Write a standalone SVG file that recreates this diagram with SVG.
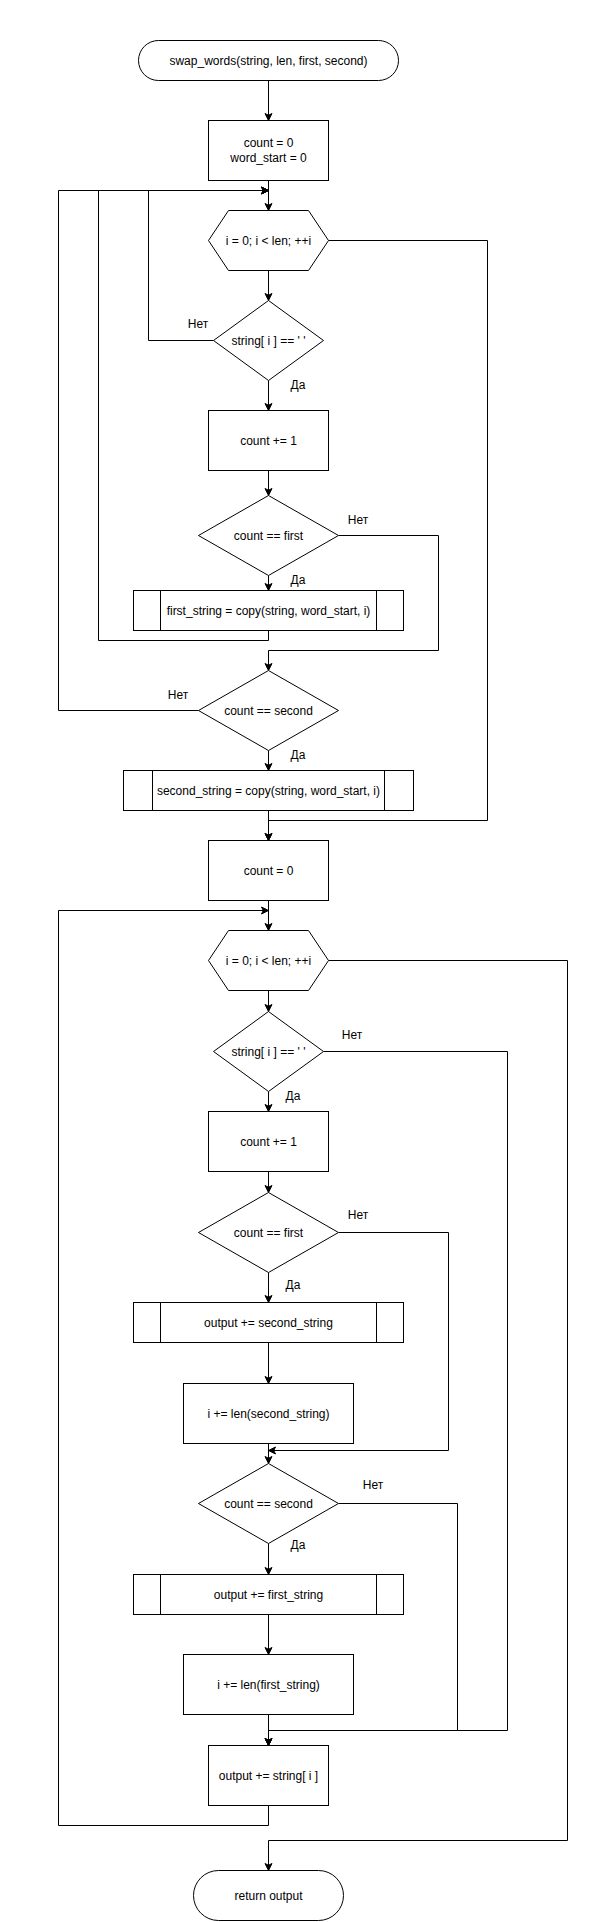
<svg xmlns="http://www.w3.org/2000/svg" width="612" height="1922" viewBox="0 0 612 1922">
<defs>
<marker id="arr" viewBox="0 0 8 8" refX="7" refY="4" markerWidth="8" markerHeight="8" markerUnits="userSpaceOnUse" orient="auto" overflow="visible">
<path d="M 7 4 L 0 0.5 L 1.75 4 L 0 7.5 Z" fill="#000" stroke="#000" stroke-width="1"/>
</marker>
</defs>
<style>
.s{fill:#fff;stroke:#000;stroke-width:1}
.l{fill:none;stroke:#000;stroke-width:1}
.c{fill:none;stroke:#000;stroke-width:1;marker-end:url(#arr)}
text{font-family:"Liberation Sans",Arial,Helvetica,sans-serif;font-size:12px;fill:#000;text-anchor:middle}
</style>
<rect width="612" height="1922" fill="#fff"/>
<g id="connectors">
<path class="c" d="M 268.5 80.5 L 268.5 120.5"/>
<path class="c" d="M 268.5 180.5 L 268.5 210.5"/>
<path class="c" d="M 328.5 240.5 L 487.5 240.5 L 487.5 820.5 L 268.5 820.5 L 268.5 840.5"/>
<path class="c" d="M 268.5 270.5 L 268.5 300.5"/>
<path class="c" d="M 213.5 340.5 L 148.5 340.5 L 148.5 190.5 L 268.5 190.5"/>
<path class="c" d="M 268.5 380.5 L 268.5 410.5"/>
<path class="c" d="M 268.5 470.5 L 268.5 495.5"/>
<path class="c" d="M 338.5 535.5 L 438.5 535.5 L 438.5 650.5 L 268.5 650.5 L 268.5 670.5"/>
<path class="c" d="M 268.5 575.5 L 268.5 590.5"/>
<path class="c" d="M 268.5 630.5 L 268.5 640.5 L 98.5 640.5 L 98.5 190.5 L 268.5 190.5"/>
<path class="c" d="M 198.5 710.5 L 58.5 710.5 L 58.5 190.5 L 268.5 190.5"/>
<path class="c" d="M 268.5 750.5 L 268.5 770.5"/>
<path class="c" d="M 268.5 810.5 L 268.5 840.5"/>
<path class="c" d="M 268.5 900.5 L 268.5 930.5"/>
<path class="c" d="M 268.5 990.5 L 268.5 1011.5"/>
<path class="c" d="M 328.5 960.5 L 567.5 960.5 L 567.5 1840.5 L 268.5 1840.5 L 268.5 1870.5"/>
<path class="c" d="M 323.5 1051.5 L 507.5 1051.5 L 507.5 1730.5 L 268.5 1730.5 L 268.5 1745.5"/>
<path class="c" d="M 268.5 1091.5 L 268.5 1111.5"/>
<path class="c" d="M 268.5 1171.5 L 268.5 1192.5"/>
<path class="c" d="M 338.5 1232.5 L 448.5 1232.5 L 448.5 1450.5 L 268.5 1450.5"/>
<path class="c" d="M 268.5 1272.5 L 268.5 1302.5"/>
<path class="c" d="M 268.5 1342.5 L 268.5 1383.5"/>
<path class="c" d="M 268.5 1443.5 L 268.5 1463.5"/>
<path class="c" d="M 338.5 1503.5 L 457.5 1503.5 L 457.5 1730.5 L 268.5 1730.5 L 268.5 1745.5"/>
<path class="c" d="M 268.5 1543.5 L 268.5 1574.5"/>
<path class="c" d="M 268.5 1614.5 L 268.5 1654.5"/>
<path class="c" d="M 268.5 1714.5 L 268.5 1745.5"/>
<path class="c" d="M 268.5 1805.5 L 268.5 1825.5 L 58.5 1825.5 L 58.5 910.5 L 268.5 910.5"/>
<text x="198" y="328">Нет</text>
<text x="298" y="389">Да</text>
<text x="358" y="524">Нет</text>
<text x="298" y="584">Да</text>
<text x="178" y="699">Нет</text>
<text x="298" y="759">Да</text>
<text x="352" y="1039">Нет</text>
<text x="293" y="1100">Да</text>
<text x="358" y="1219">Нет</text>
<text x="293" y="1289">Да</text>
<text x="373" y="1489">Нет</text>
<text x="298" y="1549">Да</text>
</g>
<g id="start">
<rect class="s" x="138.5" y="40.5" width="260" height="40" rx="20" ry="20"/>
<text x="268.5" y="64.5">swap_words(string, len, first, second)</text>
</g>
<g id="init1">
<rect class="s" x="208.5" y="120.5" width="120" height="60"/>
<text x="268.5" y="147">count = 0</text>
<text x="268.5" y="162">word_start = 0</text>
</g>
<g id="loop1">
<path class="s" d="M 208.5 240.5 L 228.5 210.5 L 308.5 210.5 L 328.5 240.5 L 308.5 270.5 L 228.5 270.5 Z"/>
<text x="268.5" y="244.5">i = 0; i &lt; len; ++i</text>
</g>
<g id="cond1">
<path class="s" d="M 268.5 300.5 L 323.5 340.5 L 268.5 380.5 L 213.5 340.5 Z"/>
<text x="268.5" y="344.5">string[ i ] == ' '</text>
</g>
<g id="inc1">
<rect class="s" x="208.5" y="410.5" width="120" height="60"/>
<text x="268.5" y="444.5">count += 1</text>
</g>
<g id="cond2">
<path class="s" d="M 268.5 495.5 L 338.5 535.5 L 268.5 575.5 L 198.5 535.5 Z"/>
<text x="268.5" y="539.5">count == first</text>
</g>
<g id="copy1">
<rect class="s" x="133.5" y="590.5" width="270" height="40"/>
<path class="l" d="M 160.5 590.5 L 160.5 630.5 M 376.5 590.5 L 376.5 630.5"/>
<text x="268.5" y="614.5">first_string = copy(string, word_start, i)</text>
</g>
<g id="cond3">
<path class="s" d="M 268.5 670.5 L 338.5 710.5 L 268.5 750.5 L 198.5 710.5 Z"/>
<text x="268.5" y="714.5">count == second</text>
</g>
<g id="copy2">
<rect class="s" x="123.5" y="770.5" width="290" height="40"/>
<path class="l" d="M 152.5 770.5 L 152.5 810.5 M 384.5 770.5 L 384.5 810.5"/>
<text x="268.5" y="794.5">second_string = copy(string, word_start, i)</text>
</g>
<g id="init2">
<rect class="s" x="208.5" y="840.5" width="120" height="60"/>
<text x="268.5" y="874.5">count = 0</text>
</g>
<g id="loop2">
<path class="s" d="M 208.5 960.5 L 228.5 930.5 L 308.5 930.5 L 328.5 960.5 L 308.5 990.5 L 228.5 990.5 Z"/>
<text x="268.5" y="964.5">i = 0; i &lt; len; ++i</text>
</g>
<g id="cond4">
<path class="s" d="M 268.5 1011.5 L 323.5 1051.5 L 268.5 1091.5 L 213.5 1051.5 Z"/>
<text x="268.5" y="1055.5">string[ i ] == ' '</text>
</g>
<g id="inc2">
<rect class="s" x="208.5" y="1111.5" width="120" height="60"/>
<text x="268.5" y="1145.5">count += 1</text>
</g>
<g id="cond5">
<path class="s" d="M 268.5 1192.5 L 338.5 1232.5 L 268.5 1272.5 L 198.5 1232.5 Z"/>
<text x="268.5" y="1236.5">count == first</text>
</g>
<g id="out1">
<rect class="s" x="133.5" y="1302.5" width="270" height="40"/>
<path class="l" d="M 160.5 1302.5 L 160.5 1342.5 M 376.5 1302.5 L 376.5 1342.5"/>
<text x="268.5" y="1326.5">output += second_string</text>
</g>
<g id="skip1">
<rect class="s" x="183.5" y="1383.5" width="170" height="60"/>
<text x="268.5" y="1417.5">i += len(second_string)</text>
</g>
<g id="cond6">
<path class="s" d="M 268.5 1463.5 L 338.5 1503.5 L 268.5 1543.5 L 198.5 1503.5 Z"/>
<text x="268.5" y="1507.5">count == second</text>
</g>
<g id="out2">
<rect class="s" x="133.5" y="1574.5" width="270" height="40"/>
<path class="l" d="M 160.5 1574.5 L 160.5 1614.5 M 376.5 1574.5 L 376.5 1614.5"/>
<text x="268.5" y="1598.5">output += first_string</text>
</g>
<g id="skip2">
<rect class="s" x="183.5" y="1654.5" width="170" height="60"/>
<text x="268.5" y="1688.5">i += len(first_string)</text>
</g>
<g id="out3">
<rect class="s" x="208.5" y="1745.5" width="120" height="60"/>
<text x="268.5" y="1779.5">output += string[ i ]</text>
</g>
<g id="end">
<rect class="s" x="193.5" y="1870.5" width="150" height="50" rx="25" ry="25"/>
<text x="268.5" y="1899.5">return output</text>
</g>
</svg>
